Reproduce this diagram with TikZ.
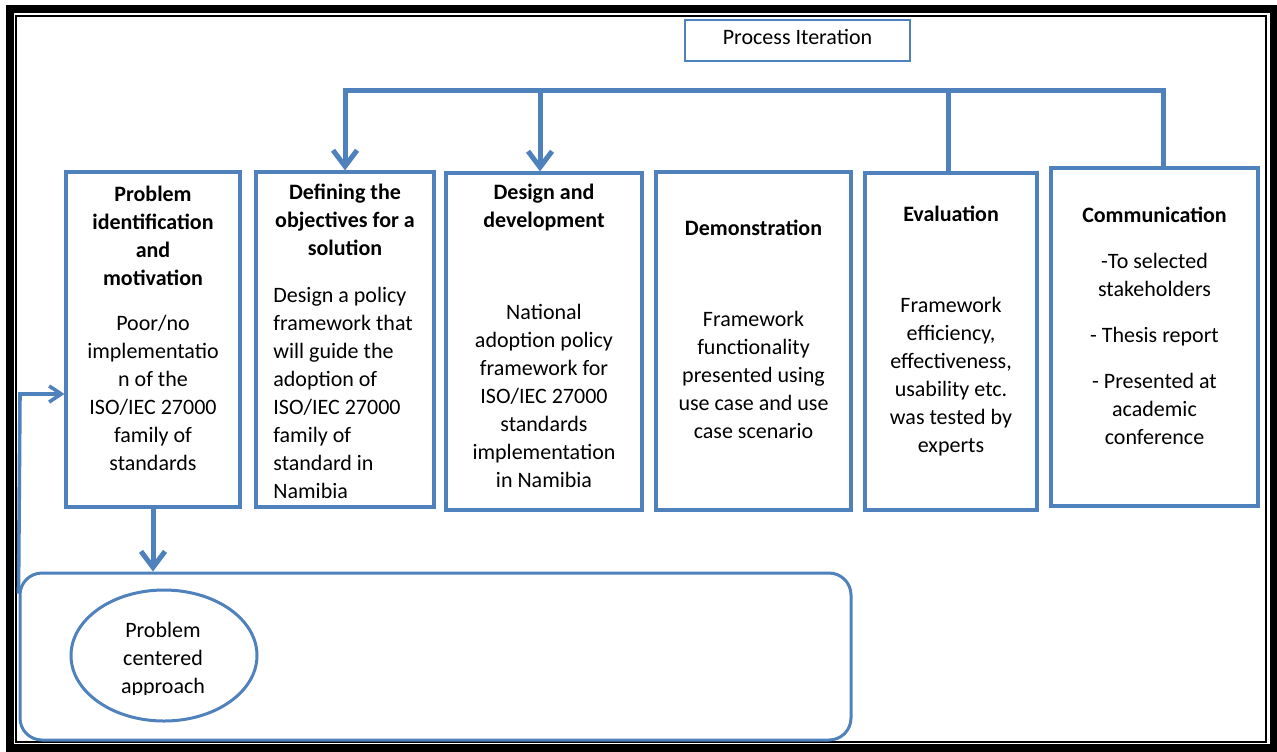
\documentclass[tikz,border=0pt]{standalone}
\usepackage{fontspec}
\setmainfont{Carlito}
\usetikzlibrary{arrows.meta,shapes.geometric,fit}
\definecolor{stageblue}{HTML}{4F81BD}
\tikzset{
  stagebox/.style={draw=stageblue, line width=1.6pt, inner sep=0pt},
  txt/.style={font=\fontsize{11}{14}\selectfont, align=center, inner sep=0pt, anchor=north},
  hd/.style={txt, font=\fontsize{11}{14}\selectfont\bfseries},
  conn/.style={draw=stageblue, line width=2.5pt},
  thinconn/.style={draw=stageblue, line width=1.8pt},
  bigtip/.style={-{Straight Barb[length=8pt,width=12pt]}},
  smalltip/.style={-{Straight Barb[length=6pt,width=8pt]}},
}
\begin{document}
\begin{tikzpicture}[x=0.5pt, y=-0.5pt]
\useasboundingbox (0,0) rectangle (1277,751);

% double page border
\draw[line width=4pt] (10,9) rectangle (1273.5,747.5);
\draw[line width=1pt] (16.3,16) rectangle (1265.5,741.5);

% process iteration label
\node[stagebox, line width=1.3pt, minimum width=112.5pt, minimum height=20.5pt,
      font=\fontsize{11}{14}\selectfont, text height=6pt, text depth=2pt]
      (pi) at (797.5,40.5) {Process Iteration};

% stage boxes
\node[stagebox, fit={(66,172) (240,507)}] (b1) {};
\node[stagebox, fit={(256,172) (434,507)}] (b2) {};
\node[stagebox, fit={(446,173) (642,510)}] (b3) {};
\node[stagebox, fit={(656,172) (851,510)}] (b4) {};
\node[stagebox, fit={(865,173) (1037,510)}] (b5) {};
\node[stagebox, fit={(1051,168) (1258,506)}] (b6) {};

% stage texts
\node[hd] (h1) at (153,181.4) {\strut Problem\\identification\\and\\motivation};
\node[txt] (t1) at (153,310.4) {\strut Poor/no\\implementatio\\n of the\\ISO/IEC 27000\\family of\\standards};

\node[hd] (h2) at (345,179.4) {\strut Defining the\\objectives for a\\solution};
\node[txt, anchor=north west, align=left] (t2) at (273,282.4)
  {\strut Design a policy\\framework that\\will guide the\\adoption of\\ISO/IEC 27000\\family of\\standard in\\Namibia};

\node[hd] (h3) at (544,179.4) {\strut Design and\\development};
\node[txt] (t3) at (544,299.4) {\strut National\\adoption policy\\framework for\\ISO/IEC 27000\\standards\\implementation\\in Namibia};

\node[hd] (h4) at (753.5,215.4) {\strut Demonstration};
\node[txt] (t4) at (753.5,306.4) {\strut Framework\\functionality\\presented using\\use case and use\\case scenario};

\node[hd] (h5) at (951,201.4) {\strut Evaluation};
\node[txt] (t5) at (951,292.4) {\strut Framework\\efficiency,\\effectiveness,\\usability etc.\\was tested by\\experts};

\node[hd] (h6) at (1154.5,202.4) {\strut Communication};
\node[txt] (t6) at (1154.5,248.4) {\strut -To selected\\stakeholders\\[9pt]- Thesis report\\[9pt]- Presented at\\academic\\conference};

% approach panel
\node[draw=stageblue, line width=1.5pt, rounded corners=11pt, inner sep=0pt,
      fit={(20,573) (851,740)}] (rr) {};
\node[draw=stageblue, line width=1.5pt, ellipse, inner sep=0pt,
      minimum width=93pt, minimum height=65.5pt] (el) at (164,655.5) {};
\begin{scope}
  \clip (20,573) rectangle (851,694);
  \node[txt] (et) at (163,617.4) {\strut Problem\\centered\\approach};
\end{scope}

% iteration bus
\coordinate (busL) at (345,90);
\coordinate (busM) at (540,90);
\coordinate (busE) at (948,90);
\coordinate (busR) at (1163,90);
\draw[conn, {Straight Barb[length=8pt,width=12pt]}-] (busL |- b2.north) -- (busL) -- (busR) -- (busR |- b6.north);
\draw[conn, bigtip] (busM) -- (busM |- b3.north);
\draw[conn] (busE) -- (busE |- b5.north);

% down to the approach panel and feedback loop
\draw[conn, bigtip] (b1.south) -- (b1.south |- rr.north);
\coordinate (fbturn) at (20,394);
\draw[thinconn, smalltip] ([yshift=-11pt]rr.north west) -- (fbturn) -- (fbturn -| b1.west);
\end{tikzpicture}
\end{document}
